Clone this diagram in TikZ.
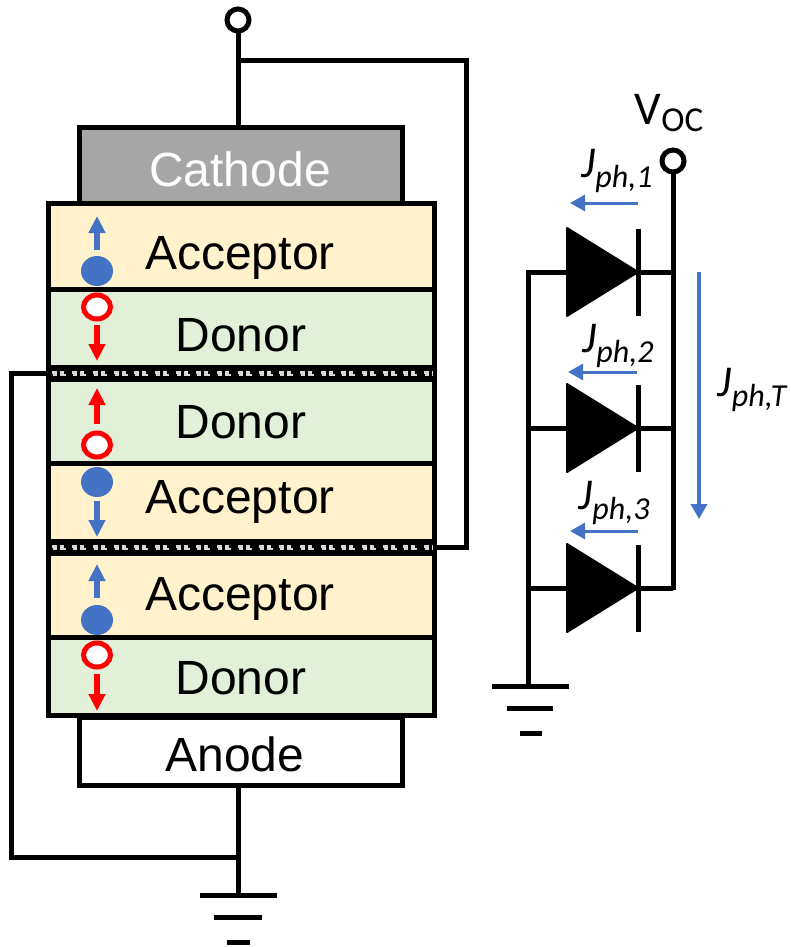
\documentclass[tikz,border=0pt]{standalone}
\usepackage{fontspec}
\setmainfont{Liberation Sans}
\newfontfamily\calfont{Carlito}
\usetikzlibrary{arrows.meta,calc}
\definecolor{accblue}{HTML}{4472C4}
\definecolor{accfill}{HTML}{FFF2CC}
\definecolor{donfill}{HTML}{E2F0D9}
\definecolor{catfill}{HTML}{A6A6A6}
\definecolor{redh}{HTML}{FF0000}
\newcommand{\Jlab}[1]{{\calfont\itshape\fontsize{44}{44}\selectfont J\raisebox{-10pt}{\fontsize{32}{32}\selectfont ph,#1}}}
\tikzset{
  x=1pt,y=-1pt,
  wire/.style={line width=5pt,black,line join=miter},
  layer/.style={draw=black,line width=5pt,minimum width=386pt,outer sep=0pt,inner sep=0pt,anchor=north west},
  cap box/.style={draw=black,line width=5pt,minimum width=323pt,outer sep=0pt,inner sep=0pt,anchor=north west},
  txt/.style={font=\fontsize{48}{48}\selectfont,inner sep=0pt,text=black},
  interlayer/.style={fill=black,minimum width=391pt,minimum height=17pt,outer sep=0pt,inner sep=0pt,anchor=north west},
  electron/.style={ellipse,fill=accblue,minimum width=32pt,minimum height=30pt,inner sep=0pt,outer sep=0pt},
  hole/.style={ellipse,draw=redh,fill=white,line width=5pt,minimum width=27pt,minimum height=24pt,inner sep=0pt,outer sep=0pt},
  bluearrow/.style={line width=5.5pt,accblue,-{Triangle[length=17pt,width=16pt]}},
  redarrow/.style={line width=5.5pt,redh,-{Triangle[length=17pt,width=16pt]}},
  thinarrow/.style={line width=3pt,accblue,-{Triangle[length=15pt,width=16pt]}},
  terminal/.style={circle,draw=black,fill=white,line width=5pt,minimum size=22pt,inner sep=0pt,outer sep=0pt},
  diodetri/.style={fill=black,line join=round,draw=black,line width=2pt},
  gnd/.style={coordinate},
}
\usetikzlibrary{shapes.geometric}
\begin{document}
\begin{tikzpicture}
\useasboundingbox (0,0) rectangle (790,947);
% stack
\node[cap box,fill=catfill,minimum height=75pt] (cathode) at (79,128) {};
\node[cap box,fill=white,minimum height=68pt] (anode) at (79,717) {};
\node[layer,fill=accfill,minimum height=86pt] (a1) at (48,203) {};
\node[layer,fill=donfill,minimum height=78pt] (d1) at (48,289) {};
\node[layer,fill=donfill,minimum height=86pt] (d2) at (48,377) {};
\node[layer,fill=accfill,minimum height=78pt] (a2) at (48,463) {};
\node[layer,fill=accfill,minimum height=86pt] (a3) at (48,551) {};
\node[layer,fill=donfill,minimum height=78pt] (d3) at (48,637) {};
\node[interlayer] (i1) at (45.5,365) {};
\node[interlayer] (i2) at (45.5,539) {};
\foreach \nm in {i1,i2}{
  \draw[white!85!black,line width=2.6pt,dash pattern=on 5pt off 3pt on 4pt off 8.7pt]
    ($(\nm.west)+(6,-1.2)$) -- ($(\nm.east)+(-4,-1.2)$);
  \draw[white!85!black,line width=2.6pt,dash pattern=on 4pt off 3pt on 6pt off 7.7pt]
    ($(\nm.west)+(7,1.4)$) -- ($(\nm.east)+(-4,1.4)$);
}
% texts
\node[txt,text=white] (tc) at (240,169) {Cathode};
\node[txt] (ta) at (235,754) {Anode};
\node[txt] (t1) at (240,258) {Acceptor};
\node[txt] (t2) at (241,335) {Donor};
\node[txt] (t3) at (241,422) {Donor};
\node[txt] (t4) at (240,502) {Acceptor};
\node[txt] (t5) at (240,599) {Acceptor};
\node[txt] (t6) at (241,678) {Donor};
% carriers
\node[electron] (e1) at (97,271) {};
\node[hole] (h1) at (97,307) {};
\node[hole] (h2) at (97,445) {};
\node[electron] (e2) at (97,482) {};
\node[electron] (e3) at (97,620) {};
\node[hole] (h3) at (97,655) {};
\coordinate (ae1) at (97,216);
\coordinate (ah1) at (97,361);
\coordinate (ah2) at (97,388);
\coordinate (ae2) at (97,537);
\coordinate (ae3) at (97,564);
\coordinate (ah3) at (97,711);
\draw[bluearrow] ($(e1)+(0,-21)$) -- (ae1);
\draw[redarrow] ($(h1)+(0,18)$) -- (ah1);
\draw[redarrow] ($(h2)+(0,-21)$) -- (ah2);
\draw[bluearrow] ($(e2)+(0,19)$) -- (ae2);
\draw[bluearrow] ($(e3)+(0,-22)$) -- (ae3);
\draw[redarrow] ($(h3)+(0,19)$) -- (ah3);
% left circuit
\node[terminal] (t0) at (238,20) {};
\coordinate (jtop) at (238,61);
\coordinate (rtop) at (466,61);
\coordinate (rbot) at (466,547);
\coordinate (lt) at (11,373);
\coordinate (lb) at (11,857);
\coordinate (jbot) at (238,857);
\coordinate (g1) at (238,895);
\draw[wire] (t0) -- (cathode.north -| t0);
\draw[wire] (jtop) -- (rtop) -- (rbot) -- (i2.east |- rbot);
\draw[wire] (i1.west |- lt) -- (lt) -- (lb) -- (jbot);
\draw[wire] (anode.south -| g1) -- (g1);
\node[gnd] (g1a) at (200,895) {};
\node[gnd] (g1b) at (277,895) {};
\node[gnd] (g1c) at (214,917) {};
\node[gnd] (g1d) at (262,917) {};
\node[gnd] (g1e) at (227,942) {};
\node[gnd] (g1f) at (250,942) {};
\draw[wire] (g1a) -- (g1b);
\draw[wire] (g1c) -- (g1d);
\draw[wire] (g1e) -- (g1f);
% right circuit
\node[terminal] (t9) at (673,161) {};
\coordinate (railL) at (528,272);
\coordinate (railLb) at (528,686);
\coordinate (railRb) at (673,590);
\draw[wire] (t9) -- (railRb);
\foreach \nm/\yy in {A/272,B/428,C/588}{
  \coordinate (w\nm) at (528,\yy);
  \coordinate (r\nm) at (673,\yy);
  \draw[wire] (w\nm) -- (r\nm);
  \draw[diodetri] (567,\yy-44) -- (638,\yy) -- (567,\yy+44) -- cycle;
  \draw[wire] (638,\yy-43) -- (638,\yy+44);
}
\draw[wire] ($(railL)+(0,-2.5)$) -- (railLb);
\node[gnd] (g2a) at (492,686) {};
\node[gnd] (g2b) at (569,686) {};
\node[gnd] (g2c) at (507,708) {};
\node[gnd] (g2d) at (553,708) {};
\node[gnd] (g2e) at (520,733) {};
\node[gnd] (g2f) at (542,733) {};
\draw[wire] (g2a) -- (g2b);
\draw[wire] (g2c) -- (g2d);
\draw[wire] (g2e) -- (g2f);
% current arrows
\coordinate (p1s) at (638,203); \coordinate (p1e) at (570,203);
\coordinate (p2s) at (637,372); \coordinate (p2e) at (568,372);
\coordinate (p3s) at (638,531); \coordinate (p3e) at (570,531);
\coordinate (pts) at (699,272); \coordinate (pte) at (699,519);
\draw[thinarrow] (p1s) -- (p1e);
\draw[thinarrow] (p2s) -- (p2e);
\draw[thinarrow] (p3s) -- (p3e);
\draw[thinarrow,line width=3.5pt] (pts) -- (pte);
\node[inner sep=0pt] (j1) at (617,171) {\Jlab{1}};
\node[inner sep=0pt] (j2) at (618,346) {\Jlab{2}};
\node[inner sep=0pt] (j3) at (614,503) {\Jlab{3}};
\node[inner sep=0pt] (jt) at (752,390) {\Jlab{T}};
\node[inner sep=0pt] (voc) at (669,113) {\calfont\fontsize{47}{47}\selectfont V\raisebox{-7pt}{\fontsize{35}{35}\selectfont OC}};
\end{tikzpicture}
\end{document}
